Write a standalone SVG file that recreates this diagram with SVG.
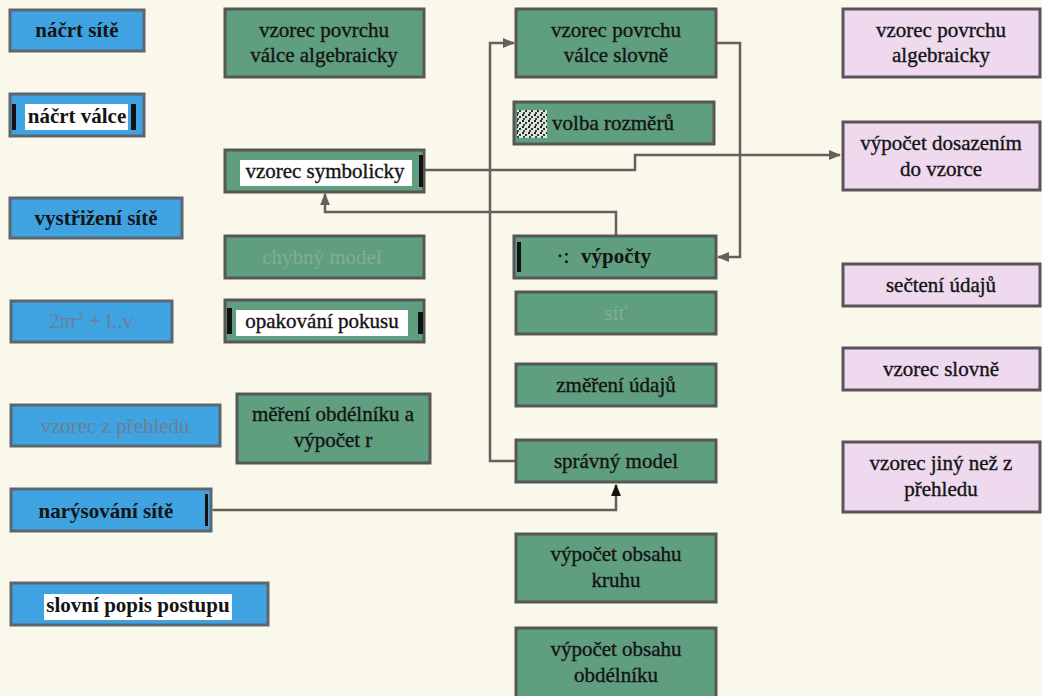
<svg xmlns="http://www.w3.org/2000/svg" width="1042" height="696" viewBox="0 0 1042 696">
  <defs>
    <style>
      .bg { fill: #faf8ea; }
      .blue rect.box { fill: #3ea3e0; stroke: #5d6670; stroke-width: 3; }
      .green rect.box { fill: #5f9e7f; stroke: #575757; stroke-width: 3; }
      .pink rect.box { fill: #eed9ee; stroke: #585458; stroke-width: 3; }
      text { font-family: 'Liberation Serif', 'DejaVu Serif', serif; font-size: 21px; fill: #141414; stroke: #141414; stroke-width: 0.35; text-anchor: middle; }
      text.b { font-weight: bold; stroke-width: 0; }
      text.fade-blue { fill: #6d7f92; stroke: none; }
      text.fade-green { fill: #82ad96; stroke: none; }
      .hl { fill: #ffffff; }
      .bar { fill: #111111; }
      .conn { fill: none; stroke: #6a5d5d; stroke-width: 2.5; }
    </style>
    <marker id="arr" viewBox="0 0 10 10" refX="9" refY="5" markerWidth="5" markerHeight="5" orient="auto" markerUnits="strokeWidth">
      <path d="M0,1 L10,5 L0,9 z" fill="#6a5d5d"/>
    </marker>
    <marker id="arrBlack" viewBox="0 0 10 10" refX="9" refY="5" markerWidth="5" markerHeight="5" orient="auto" markerUnits="strokeWidth">
      <path d="M0,1 L10,5 L0,9 z" fill="#111111"/>
    </marker>
    <pattern id="noise" width="6" height="6" patternUnits="userSpaceOnUse">
      <rect width="6" height="6" fill="#d8e4dc"/>
      <rect x="0" y="0" width="2" height="2" fill="#222"/>
      <rect x="3" y="2" width="2" height="2" fill="#333"/>
      <rect x="1" y="4" width="2" height="2" fill="#444"/>
    </pattern>
  </defs>

  <rect class="bg" x="0" y="0" width="1042" height="696"/>

  <!-- connectors -->
  <g id="connectors">
    <!-- vzorec symbolicky -> výpočet dosazením do vzorce -->
    <path class="conn" d="M424,170 H635 V155 H840" marker-end="url(#arr)"/>
    <!-- výpočty -> vzorec symbolicky -->
    <path class="conn" d="M616,236 V212 H325 V194" marker-end="url(#arr)"/>
    <!-- vzorec povrchu válce slovně -> výpočty -->
    <path class="conn" d="M716,43 H740 V257 H718" marker-end="url(#arr)"/>
    <!-- správný model -> vzorec povrchu válce slovně -->
    <path class="conn" d="M516,461 H490 V43 H514" marker-end="url(#arr)"/>
    <!-- narýsování sítě -> správný model -->
    <path class="conn" d="M213,510 H616 V485" marker-start="url(#arr)" marker-end="url(#arrBlack)"/>
  </g>

  <!-- left column -->
  <g id="nacrt-site" class="blue">
    <rect class="box" x="10" y="10" width="134" height="41"/>
    <text class="b" x="77" y="37">náčrt sítě</text>
  </g>
  <g id="nacrt-valce" class="blue">
    <rect class="box" x="10" y="94" width="134" height="42"/>
    <rect class="hl" x="25" y="104" width="103" height="26"/>
    <rect class="bar" x="12" y="104" width="4" height="26"/>
    <rect class="bar" x="131" y="104" width="5" height="26"/>
    <text class="b" x="77" y="123">náčrt válce</text>
  </g>
  <g id="vystrizeni-site" class="blue">
    <rect class="box" x="10" y="198" width="172" height="40"/>
    <text class="b" x="96" y="225">vystřižení sítě</text>
  </g>
  <g id="vzorec-2pi" class="blue">
    <rect class="box" x="11" y="301" width="161" height="41"/>
    <text class="fade-blue" x="91" y="328">2πr<tspan font-size="13" dy="-8">2</tspan><tspan dy="8"> + l..v</tspan></text>
  </g>
  <g id="vzorec-z-prehledu" class="blue">
    <rect class="box" x="11" y="405" width="209" height="41"/>
    <text class="fade-blue" x="115" y="433">vzorec z přehledu</text>
  </g>
  <g id="narysovani-site" class="blue">
    <rect class="box" x="11" y="489" width="200" height="42"/>
    <rect class="bar" x="205" y="494" width="3" height="32"/>
    <text class="b" x="106" y="518">narýsování sítě</text>
  </g>
  <g id="slovni-popis" class="blue">
    <rect class="box" x="11" y="583" width="257" height="42"/>
    <rect class="hl" x="44" y="594" width="188" height="26"/>
    <text class="b" x="138" y="612">slovní popis postupu</text>
  </g>

  <!-- second column -->
  <g id="vzorec-povrchu-valce-alg" class="green">
    <rect class="box" x="225" y="9" width="199" height="68"/>
    <text x="324" y="37">vzorec povrchu</text>
    <text x="324" y="62">válce algebraicky</text>
  </g>
  <g id="vzorec-symbolicky" class="green">
    <rect class="box" x="225" y="150" width="199" height="42"/>
    <rect class="hl" x="240" y="160" width="172" height="26"/>
    <rect class="bar" x="419" y="155" width="4" height="32"/>
    <text x="325" y="178">vzorec symbolicky</text>
  </g>
  <g id="chybny-model" class="green">
    <rect class="box" x="225" y="236" width="199" height="42"/>
    <text class="fade-green" x="322" y="264">chybný model</text>
  </g>
  <g id="opakovani-pokusu" class="green">
    <rect class="box" x="225" y="300" width="199" height="42"/>
    <rect class="hl" x="236" y="310" width="172" height="26"/>
    <rect class="bar" x="227" y="308" width="5" height="26"/>
    <rect class="bar" x="418" y="312" width="5" height="22"/>
    <text x="322" y="328">opakování pokusu</text>
  </g>
  <g id="mereni-obdelniku" class="green">
    <rect class="box" x="237" y="394" width="193" height="69"/>
    <text x="333" y="421">měření obdélníku a</text>
    <text x="333" y="447">výpočet r</text>
  </g>

  <!-- third column -->
  <g id="vzorec-povrchu-valce-slovne" class="green">
    <rect class="box" x="516" y="9" width="200" height="68"/>
    <text x="616" y="37">vzorec povrchu</text>
    <text x="616" y="62">válce slovně</text>
  </g>
  <g id="volba-rozmeru" class="green">
    <rect class="box" x="514" y="102" width="200" height="42"/>
    <rect x="517" y="110" width="30" height="28" fill="url(#noise)"/>
    <text x="613" y="130">volba rozměrů</text>
  </g>
  <g id="vypocty" class="green">
    <rect class="box" x="514" y="236" width="202" height="42"/>
    <rect class="bar" x="517" y="242" width="4" height="30"/>
    <text x="563" y="263" font-size="12">·:</text>
    <text x="616" y="263" class="b">výpočty</text>
  </g>
  <g id="sit" class="green">
    <rect class="box" x="516" y="292" width="200" height="42"/>
    <text class="fade-green" x="616" y="320">síť</text>
  </g>
  <g id="zmereni-udaju" class="green">
    <rect class="box" x="516" y="364" width="200" height="42"/>
    <text x="616" y="392">změření údajů</text>
  </g>
  <g id="spravny-model" class="green">
    <rect class="box" x="516" y="440" width="200" height="42"/>
    <text x="616" y="468">správný model</text>
  </g>
  <g id="vypocet-obsahu-kruhu" class="green">
    <rect class="box" x="516" y="534" width="200" height="68"/>
    <text x="616" y="561">výpočet obsahu</text>
    <text x="616" y="587">kruhu</text>
  </g>
  <g id="vypocet-obsahu-obdelniku" class="green">
    <rect class="box" x="516" y="628" width="200" height="70"/>
    <text x="616" y="656">výpočet obsahu</text>
    <text x="616" y="682">obdélníku</text>
  </g>

  <!-- right column -->
  <g id="vzorec-povrchu-alg" class="pink">
    <rect class="box" x="843" y="9" width="197" height="68"/>
    <text x="941" y="37">vzorec povrchu</text>
    <text x="941" y="62">algebraicky</text>
  </g>
  <g id="vypocet-dosazenim" class="pink">
    <rect class="box" x="843" y="122" width="197" height="68"/>
    <text x="941" y="150">výpočet dosazením</text>
    <text x="941" y="176">do vzorce</text>
  </g>
  <g id="secteni-udaju" class="pink">
    <rect class="box" x="843" y="264" width="197" height="42"/>
    <text x="941" y="292">sečtení údajů</text>
  </g>
  <g id="vzorec-slovne" class="pink">
    <rect class="box" x="843" y="348" width="197" height="42"/>
    <text x="941" y="376">vzorec slovně</text>
  </g>
  <g id="vzorec-jiny" class="pink">
    <rect class="box" x="843" y="442" width="197" height="70"/>
    <text x="941" y="470">vzorec jiný než z</text>
    <text x="941" y="496">přehledu</text>
  </g>
</svg>
